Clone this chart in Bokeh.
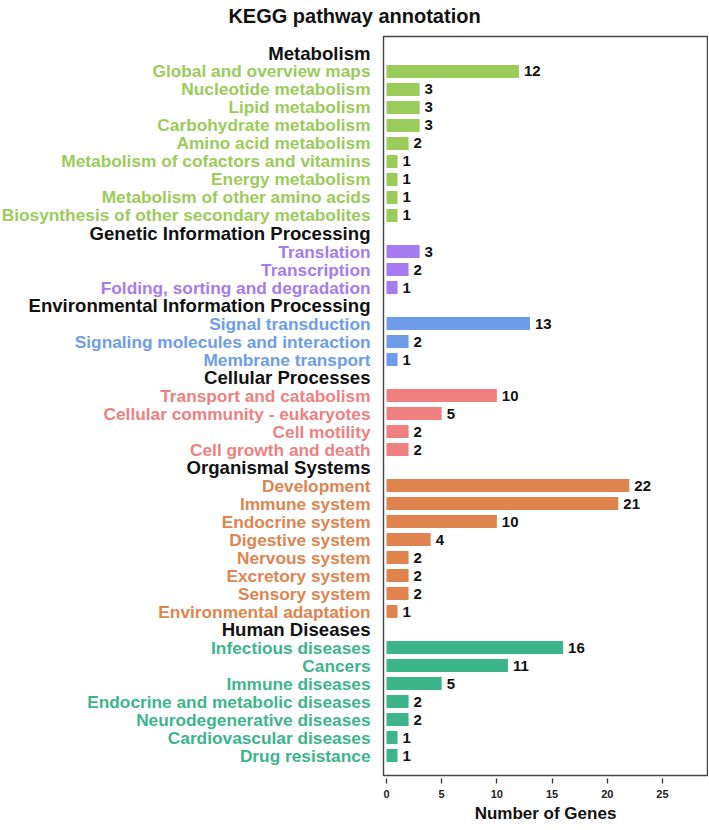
from bokeh.plotting import figure
from bokeh.models import ColumnDataSource, LabelSet, Range1d, FixedTicker
from bokeh.layouts import column, row
from bokeh.core.properties import value
from bokeh.embed import file_html
from bokeh.resources import INLINE

# ---- data ----
groups = ["Metabolism", "Genetic Information Processing",
          "Environmental Information Processing", "Cellular Processes",
          "Organismal Systems", "Human Diseases"]
group_colors = ["#9BCB5B", "#A57BF0", "#6E9CE8", "#F08080", "#E0844F", "#3DB58B"]

metabolism_terms = ["Global and overview maps", "Nucleotide metabolism", "Lipid metabolism",
                    "Carbohydrate metabolism", "Amino acid metabolism",
                    "Metabolism of cofactors and vitamins", "Energy metabolism",
                    "Metabolism of other amino acids",
                    "Biosynthesis of other secondary metabolites"]
metabolism_counts = [12, 3, 3, 3, 2, 1, 1, 1, 1]

genetic_terms = ["Translation", "Transcription", "Folding, sorting and degradation"]
genetic_counts = [3, 2, 1]

environmental_terms = ["Signal transduction", "Signaling molecules and interaction",
                       "Membrane transport"]
environmental_counts = [13, 2, 1]

cellular_terms = ["Transport and catabolism", "Cellular community - eukaryotes",
                  "Cell motility", "Cell growth and death"]
cellular_counts = [10, 5, 2, 2]

organismal_terms = ["Development", "Immune system", "Endocrine system", "Digestive system",
                    "Nervous system", "Excretory system", "Sensory system",
                    "Environmental adaptation"]
organismal_counts = [22, 21, 10, 4, 2, 2, 2, 1]

disease_terms = ["Infectious diseases", "Cancers", "Immune diseases",
                 "Endocrine and metabolic diseases", "Neurodegenerative diseases",
                 "Cardiovascular diseases", "Drug resistance"]
disease_counts = [16, 11, 5, 2, 2, 1, 1]

x_ticks = [0, 5, 10, 15, 20, 25]
title_text = "KEGG pathway annotation"
x_title = "Number of Genes"

group_terms = [metabolism_terms, genetic_terms, environmental_terms,
               cellular_terms, organismal_terms, disease_terms]
group_counts = [metabolism_counts, genetic_counts, environmental_counts,
                cellular_counts, organismal_counts, disease_counts]

# ---- build row table (row 0 at top) ----
hdr = dict(y=[], name=[])
itm = dict(y=[], name=[], count=[], color=[], label=[])
r = 0
for g, col, terms, counts in zip(groups, group_colors, group_terms, group_counts):
    hdr["y"].append(r)
    hdr["name"].append(g)
    r += 1
    for t, c in zip(terms, counts):
        itm["y"].append(r)
        itm["name"].append(t)
        itm["count"].append(c)
        itm["color"].append(col)
        itm["label"].append(str(c))
        r += 1
n_rows = r

hdr_src = ColumnDataSource(hdr)
itm_src = ColumnDataSource(itm)

FONT = value("Liberation Sans")
yr = Range1d(n_rows - 1 + 1.11, -0.944)

TOP_H = 32
BOT = 52
BODY_H = 743 + BOT
LEFT_W = 381
RIGHT_W = 327

# ---- title strip ----
tf = figure(width=LEFT_W + RIGHT_W, height=TOP_H, output_backend="svg",
            toolbar_location=None, x_range=Range1d(0, LEFT_W + RIGHT_W),
            y_range=Range1d(0, TOP_H), x_axis_location=None, y_axis_location=None,
            min_border=0)
tf.outline_line_color = None
tf.grid.visible = False
tf.text(x=354, y=TOP_H - 15, text=[title_text], text_align="center",
        text_baseline="middle", text_font=FONT, text_font_style="bold",
        text_font_size="20px", text_color="#111111")

# ---- label panel ----
lf = figure(width=LEFT_W, height=BODY_H, output_backend="svg", toolbar_location=None,
            x_range=Range1d(0, LEFT_W), y_range=yr,
            x_axis_location=None, y_axis_location=None,
            min_border_left=0, min_border_right=0, min_border_top=4,
            min_border_bottom=BOT)
lf.outline_line_color = None
lf.grid.visible = False
lf.text(x=370, y="y", text="name", source=itm_src, text_align="right",
        text_baseline="middle", text_font=FONT, text_font_style="bold",
        text_font_size="17.3px", text_color="color")
lf.text(x=370, y="y", text="name", source=hdr_src, text_align="right",
        text_baseline="middle", text_font=FONT, text_font_style="bold",
        text_font_size="18.6px", text_color="#111111")

# ---- bar panel ----
p = figure(width=RIGHT_W, height=BODY_H, output_backend="svg", toolbar_location=None,
           x_range=Range1d(-0.27, 29.08), y_range=yr,
           y_axis_location=None,
           min_border_left=2, min_border_right=1, min_border_top=4,
           min_border_bottom=BOT)
p.background_fill_color = "white"
p.border_fill_color = "white"
p.outline_line_color = "#444444"
p.outline_line_width = 1.4
p.grid.visible = False

p.hbar(y="y", left=0, right="count", height=0.72, fill_color="color",
       line_color=None, source=itm_src)

p.add_layout(LabelSet(x="count", y="y", text="label", source=itm_src,
                      x_offset=5, text_baseline="middle", text_align="left",
                      text_font=FONT, text_font_style="bold",
                      text_font_size="15px", text_color="#111111"))

ax = p.xaxis[0]
ax.ticker = FixedTicker(ticks=x_ticks)
ax.axis_line_color = None
ax.major_tick_in = -3
ax.major_tick_out = 8
ax.major_tick_line_color = "#333333"
ax.major_tick_line_width = 1.3
ax.minor_tick_line_color = None
ax.major_label_standoff = 6
ax.major_label_text_font = "Liberation Sans"
ax.major_label_text_font_style = "bold"
ax.major_label_text_font_size = "11px"
ax.major_label_text_color = "#222222"
ax.axis_label = x_title
ax.axis_label_standoff = 3
ax.axis_label_text_font = "Liberation Sans"
ax.axis_label_text_font_style = "bold"
ax.axis_label_text_font_size = "17px"
ax.axis_label_text_color = "#111111"

layout = column(tf, row(lf, p, spacing=0), spacing=0)
open("out.html", "w").write(file_html(layout, INLINE))
